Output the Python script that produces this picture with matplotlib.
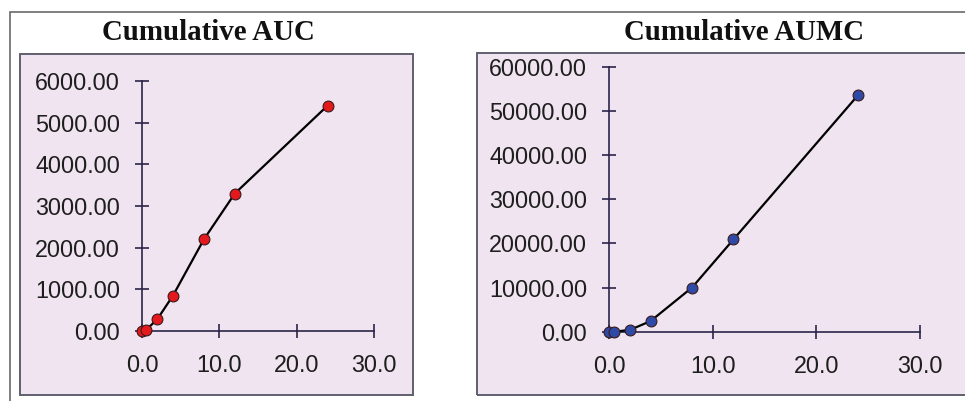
import matplotlib
matplotlib.use("Agg")
import matplotlib.pyplot as plt
from matplotlib.patches import Rectangle
from matplotlib.ticker import FormatStrFormatter, FixedLocator

time_h = [0, 0.5, 2, 4, 8, 12, 24]
auc = [0, 20, 290, 850, 2200, 3300, 5410]
aumc = [0, 10, 400, 2400, 10000, 20900, 53500]

auc_ticks = [0, 1000, 2000, 3000, 4000, 5000, 6000]
aumc_ticks = [0, 10000, 20000, 30000, 40000, 50000, 60000]
x_ticks = [0, 10, 20, 30]

W, H = 965, 401
fig = plt.figure(figsize=(W / 100, H / 100), dpi=100)
fig.patch.set_facecolor("white")

def fx(px):
    return px / W

def fy(py):
    return 1 - py / H

# outer frame
fig.add_artist(Rectangle((fx(10), fy(420)), fx(1000) - fx(10), fy(12) - fy(420),
                         transform=fig.transFigure, fill=False, ec="#6a6a6a", lw=1.2))

PINK = "#F0E4F0"
BORDER = "#5f5f6e"
AXC = "#2b2448"
TICKFONT = dict(family="Liberation Sans", size=16.8, color="#1e1e1e")

def panel(box, xlim, ylim, yvals, yticks, color, title, title_x):
    x0, y0, x1, y1 = box
    ax = fig.add_axes([fx(x0), fy(y1), fx(x1) - fx(x0), fy(y0) - fy(y1)])
    ax.set_facecolor(PINK)
    fig.add_artist(Rectangle((fx(x0), fy(y1)), fx(x1) - fx(x0), fy(y0) - fy(y1),
                             transform=fig.transFigure, fill=False, ec=BORDER, lw=1.4))
    ax.set_xlim(*xlim)
    ax.set_ylim(*ylim)
    for s in ["top", "right"]:
        ax.spines[s].set_visible(False)
    ax.spines["left"].set_position(("data", 0))
    ax.spines["bottom"].set_position(("data", 0))
    ax.spines["left"].set_bounds(yticks[0], yticks[-1])
    ax.spines["bottom"].set_bounds(x_ticks[0], x_ticks[-1])
    for s in ["left", "bottom"]:
        ax.spines[s].set_color(AXC)
        ax.spines[s].set_linewidth(1.2)
    ax.xaxis.set_major_locator(FixedLocator(x_ticks))
    ax.yaxis.set_major_locator(FixedLocator(yticks))
    ax.xaxis.set_major_formatter(FormatStrFormatter("%.1f"))
    ax.yaxis.set_major_formatter(FormatStrFormatter("%.2f"))
    ax.tick_params(axis="both", direction="inout", length=9.5, width=1.2, color=AXC)
    ax.tick_params(axis="y", pad=11)
    ax.tick_params(axis="x", pad=12)
    for lab in ax.get_xticklabels() + ax.get_yticklabels():
        lab.set_fontfamily(TICKFONT["family"])
        lab.set_fontsize(TICKFONT["size"])
        lab.set_color(TICKFONT["color"])
    ax.plot(time_h, yvals, color="black", lw=1.6, marker="o", ms=7.8,
            mfc=color, mec="#3a1a1a", mew=0.8, clip_on=False, zorder=5)
    fig.text(fx(title_x), fy(33), title, ha="center", va="center",
             family="Liberation Serif", fontweight="bold", fontsize=20.8, color="#111111")
    return ax

panel((20, 54, 413, 395), (-15.78, 35.04), (-1536, 6648), auc, auc_ticks,
      "#E3191E", "Cumulative AUC", 208.5)
panel((477, 53, 985, 395), (-12.75, 36.27), (-14332, 63102), aumc, aumc_ticks,
      "#2F49A6", "Cumulative AUMC", 744.5)

fig.savefig("out.png", dpi=100)
